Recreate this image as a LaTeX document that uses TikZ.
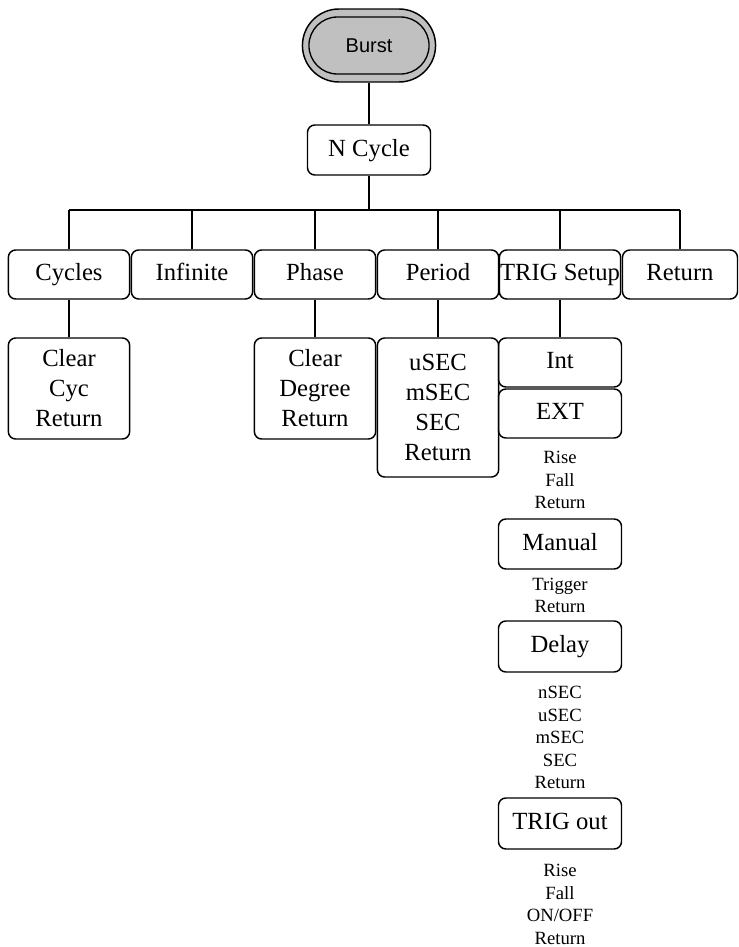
\documentclass[tikz,border=0pt]{standalone}
\usepackage{fontspec}
\setmainfont{Liberation Serif}
\setsansfont{Liberation Sans}
\usetikzlibrary{shapes.misc}
\definecolor{keygray}{RGB}{192,192,192}
\definecolor{ink}{RGB}{0,0,0}

\begin{document}
\begin{tikzpicture}[x=0.75pt, y=-0.75pt,
                    menu/.style={draw=ink, line width=1.1pt, rounded corners=5.5pt,
                                 minimum width=91pt, minimum height=36.75pt, inner sep=0pt,
                                 align=center, font=\fontsize{18.5}{22.5}\selectfont},
                    key/.style={menu, text height=13pt, text depth=4pt},
                    opts/.style={align=center, inner sep=0pt, color=ink,
                                 font=\fontsize{14}{16.9}\selectfont},
                    wire/.style={draw=ink, line width=1.1pt}]
  \useasboundingbox (0,0) rectangle (739,947);

  % hard key and first level
  \node[rounded rectangle, fill=keygray, draw=ink, line width=1.1pt,
        minimum width=106.5pt, minimum height=54.75pt] (burst) at (369,45.5) {};
  \node[rounded rectangle, draw=ink, line width=1pt, minimum width=96.75pt,
        minimum height=42.75pt, font=\sffamily\fontsize{15}{18}\selectfont] (burstin) at (369,45.5) {Burst};
  \node[key, minimum width=92.25pt, minimum height=37.5pt] (ncycle) at (369,150) {N Cycle};
  \coordinate (bus) at (369,210);

  % soft keys
  \node[key] (cycles)   at (69,274.5)  {Cycles};
  \node[key] (infinite) at (192,274.5) {Infinite};
  \node[key] (phase)    at (315,274.5) {Phase};
  \node[key] (period)   at (438,274.5) {Period};
  \node[key] (trig)     at (560,274.5) {TRIG Setup};
  \node[key, minimum width=86.25pt] (back) at (680,274.5) {Return};

  % second level
  \node[menu, minimum height=75.75pt]  (cyc)  at (69,388.5)  {Clear\\Cyc\\Return};
  \node[menu, minimum height=75.75pt]  (deg)  at (315,388.5) {Clear\\Degree\\Return};
  \node[menu, minimum height=104.25pt] (unit) at (438,407.5) {uSEC\\mSEC\\SEC\\Return};

  % trigger column
  \node[key, minimum width=92.25pt] (int) at (560,362.5) {Int};
  \node[key, minimum width=92.25pt] (ext) at (560,413.5) {EXT};
  \node[opts] (extopts) at (560,480) {Rise\\Fall\\Return};
  \node[key, minimum width=92.25pt, minimum height=37.5pt] (manual) at (560,544) {Manual};
  \node[opts] (manopts) at (560,595.5) {Trigger\\Return};
  \node[key, minimum width=92.25pt, minimum height=38.25pt] (delay) at (560,646.5) {Delay};
  \node[opts] (delopts) at (560,737.5) {nSEC\\uSEC\\mSEC\\SEC\\Return};
  \node[key, minimum width=92.25pt, minimum height=38.25pt] (trigout) at (560,823.5) {TRIG out};
  \node[opts] (outopts) at (560,904.5) {Rise\\Fall\\ON/OFF\\Return};

  \draw[wire] (burst) -- (ncycle);
  \draw[wire] (ncycle) -- (bus);
  \draw[wire] (cycles |- bus) -- (back |- bus);
  \foreach \k in {cycles,infinite,phase,period,trig,back}
    \draw[wire] (\k) -- (\k |- bus);
  \draw[wire] (cycles) -- (cyc);
  \draw[wire] (phase) -- (deg);
  \draw[wire] (period) -- (unit);
  \draw[wire] (trig) -- (int);
\end{tikzpicture}
\end{document}
